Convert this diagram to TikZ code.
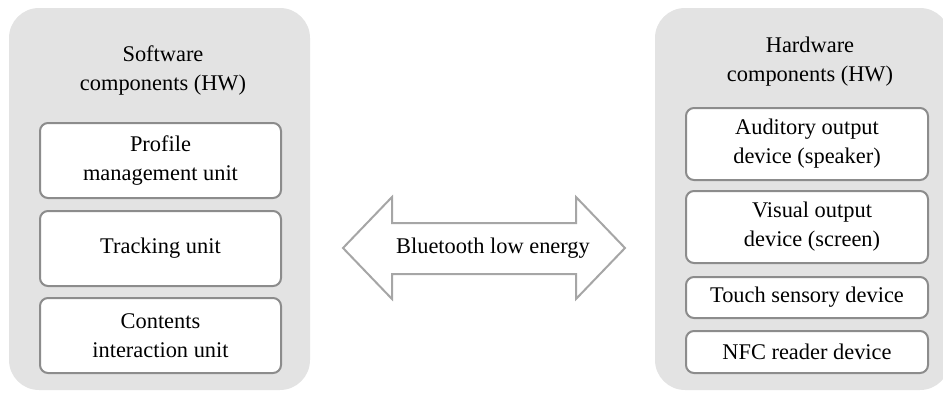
\documentclass[tikz,border=0pt]{standalone}
\usepackage{fontspec}
\setmainfont{Liberation Serif}
\definecolor{panelgray}{HTML}{E3E3E3}
\definecolor{boxgray}{HTML}{8C8C8C}
\definecolor{arrowgray}{HTML}{A6A6A6}
\begin{document}
\begin{tikzpicture}[x=0.5pt,y=-0.5pt,
  unit/.style={draw=boxgray, line width=1pt, fill=white, rounded corners=4pt, inner sep=0pt, align=center, font=\fontsize{11.2}{14.5}\selectfont},
  title/.style={align=center, font=\fontsize{11.2}{14.5}\selectfont}]
\useasboundingbox (0,0) rectangle (943,392);
% the two panels
\fill [panelgray, rounded corners=15pt] (9,8) rectangle (310,390);
\fill [panelgray, rounded corners=15pt] (655,8) rectangle (950,390);
\node [title] (swtitle) at (163,70) {Software\\components (HW)};
\node [title] (hwtitle) at (810,62) {Hardware\\components (HW)};
% software units
\node [unit, minimum width=120.5pt, minimum height=37.5pt] (profile) at (160.5,160.5) {Profile\\management unit};
\node [unit, minimum width=120.5pt, minimum height=37.5pt] (tracking) at (160.5,248.5) {Tracking unit};
\node [unit, minimum width=120.5pt, minimum height=37.5pt] (contents) at (160.5,335.5) {Contents\\interaction unit};
% hardware units
\node [unit, minimum width=121pt, minimum height=36pt] (auditory) at (807,144) {Auditory output\\device (speaker)};
\node [unit, minimum width=121pt, minimum height=36pt] (visual) at (807,227) {\hspace{5pt}Visual output\\\hspace{5pt}device (screen)};
\node [unit, minimum width=121pt, minimum height=20.5pt] (touch) at (807,297.5) {Touch sensory device};
\node [unit, minimum width=121pt, minimum height=21pt] (nfc) at (807,352) {NFC reader device};
% link
\draw [arrowgray, line width=1pt, fill=white, line join=miter] (343,248) -- (392,197) -- (392,223) -- (576,223) -- (576,197) -- (625,248) -- (576,299) -- (576,274) -- (392,274) -- (392,299) -- cycle;
\node [title] (ble) at (493,248) {Bluetooth low energy};
\end{tikzpicture}
\end{document}
